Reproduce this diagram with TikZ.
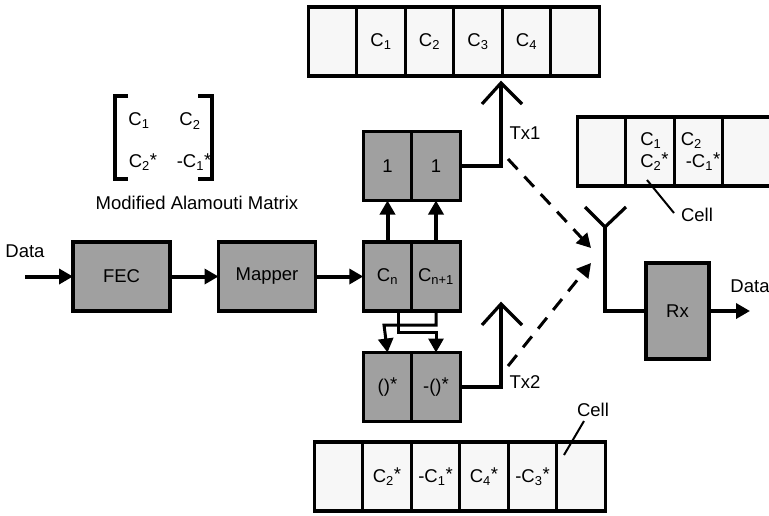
\documentclass[tikz,border=0pt]{standalone}
\usepackage{fontspec}
\setmainfont{Liberation Sans}
\usetikzlibrary{arrows.meta, positioning}
\definecolor{blockgray}{RGB}{160, 160, 160}
\definecolor{cellwhite}{RGB}{247, 247, 247}
\newcommand{\Csub}[1]{C\textsubscript{#1}}
\newcommand{\Star}{\raisebox{1.5pt}{*}}
\newcommand{\Cstar}[1]{C\textsubscript{#1}\Star}

\begin{document}
\begin{tikzpicture}[
  x=1pt, y=-1pt,
  line width=3.2pt,
  cellbox/.style={draw, fill=cellwhite, minimum width=48.5pt, minimum height=69pt, inner sep=0pt, outer sep=0pt, font=\fontsize{18.5}{21.5}\selectfont},
  graybox/.style={draw, fill=blockgray, minimum width=48.5pt, minimum height=69pt, inner sep=0pt, outer sep=0pt, font=\fontsize{18.5}{21.5}\selectfont},
  bigbox/.style={graybox, minimum width=97pt},
  lbl/.style={inner sep=0pt, font=\fontsize{18.5}{21.5}\selectfont},
  flow/.style={-{Triangle[length=14pt, width=15pt]}, line width=4pt},
  txline/.style={line width=4pt},
  leader/.style={line width=2pt}
]
  \useasboundingbox (0,0) rectangle (769,515);

  % transmit slots, antenna 1
  \node[cellbox] (topa) at (332.5, 41.5) {};
  \node[cellbox, right=0pt of topa] (topb) {\Csub{1}};
  \node[cellbox, right=0pt of topb] (topc) {\Csub{2}};
  \node[cellbox, right=0pt of topc] (topd) {\Csub{3}};
  \node[cellbox, right=0pt of topd] (tope) {\Csub{4}};
  \node[cellbox, right=0pt of tope] (topf) {};

  % received slots
  \node[cellbox] (rxa) at (601.5, 151.5) {};
  \node[cellbox, right=0pt of rxa, align=left] (rxb) {\hspace*{9pt}\Csub{1}\\\hspace*{9pt}\Cstar{2}};
  \node[cellbox, right=0pt of rxb, align=left] (rxc) {\hspace*{4pt}\Csub{2}\\\hspace*{9pt}-\Cstar{1}};
  \node[cellbox, right=0pt of rxc] (rxd) {};

  % transmit slots, antenna 2
  \node[cellbox] (lowa) at (338.5, 476.5) {};
  \node[cellbox, right=0pt of lowa] (lowb) {\Cstar{2}};
  \node[cellbox, right=0pt of lowb] (lowc) {-\Cstar{1}};
  \node[cellbox, right=0pt of lowc] (lowd) {\Cstar{4}};
  \node[cellbox, right=0pt of lowd] (lowe) {-\Cstar{3}};
  \node[cellbox, right=0pt of lowe] (lowf) {};

  % encoder blocks
  \node[bigbox] (fec) at (121.5, 276.5) {FEC};
  \node[bigbox] (mapper) at (267, 276.5) {Mapper};
  \node[graybox] (cn) at (387.5, 276.5) {\Csub{n}};
  \node[graybox, right=0pt of cn] (cnn) {\Csub{n+1}};
  \node[graybox] (onea) at (387.5, 166) {1};
  \node[graybox, right=0pt of onea] (oneb) {1};
  \node[graybox] (conj) at (387.5, 387) {()\Star};
  \node[graybox, right=0pt of conj] (nconj) {-()\Star};
  \node[graybox, minimum width=63pt, minimum height=96pt] (rx) at (677.5, 311) {Rx};

  % matrix
  \node[lbl] (mone) at (139, 121) {\Csub{1}};
  \node[lbl] (mtwo) at (190, 121) {\Csub{2}};
  \node[lbl] (mthree) at (143, 162) {\Cstar{2}};
  \node[lbl] (mfour) at (194, 162) {-\Cstar{1}};
  \draw (128, 96) -- (115, 96) -- (115, 179) -- (128, 179);
  \draw (198, 96) -- (212, 96) -- (212, 179) -- (198, 179);
  \node[lbl] (mcap) at (197, 203) {Modified Alamouti Matrix};

  % main chain
  \node[lbl] (datain) at (25, 251) {Data};
  \coordinate (datastart) at (25, 276.5);
  \draw[flow] (datastart) -- (fec);
  \draw[flow] (fec) -- (mapper);
  \draw[flow] (mapper) -- (cn);
  \draw[flow] (cn.north) -- (onea.south);
  \draw[flow] (cnn.north) -- (oneb.south);

  % crossing into the conjugate blocks
  \draw[flow, line width=3pt] (cnn.south) -- (cnn.south |- 0, 325) -- (384, 325) -- (conj.north);
  \draw[flow, line width=3pt] (398, 311) -- (398, 332) -- (cnn.south |- 0, 332) -- (nconj.north);

  % antennas
  \coordinate (txatip) at (501, 83);
  \coordinate (txbtip) at (501, 304);
  \draw[txline] (oneb.east) -| (txatip);
  \draw[txline] (nconj.east) -| (txbtip);
  \draw (482, 104) -- (txatip) -- (522, 104);
  \draw (482, 325) -- (txbtip) -- (522, 325);
  \node[lbl] (txa) at (525, 133) {Tx1};
  \node[lbl] (txb) at (525, 382) {Tx2};

  % receive antenna
  \coordinate (rxtip) at (605, 227);
  \draw (585, 207) -- (rxtip) -- (626, 207);
  \draw[txline] (rxtip) |- (rx.west);
  \coordinate (dashatail) at (508, 159);
  \coordinate (dashahead) at (591, 248);
  \coordinate (dashbtail) at (508, 366);
  \coordinate (dashbhead) at (591, 263);
  \draw[flow, line width=3pt, dash pattern=on 14pt off 10pt] (dashatail) -- (dashahead);
  \draw[flow, line width=3pt, dash pattern=on 14pt off 10pt] (dashbtail) -- (dashbhead);

  % output
  \coordinate (dataend) at (750, 311);
  \draw[flow] (rx) -- (dataend);
  \node[lbl] (dataout) at (750, 286) {Data};

  % cell labels
  \node[lbl] (cella) at (697, 215) {Cell};
  \node[lbl] (cellb) at (593, 410) {Cell};
  \coordinate (cellatip) at (647, 180);
  \coordinate (cellaend) at (674, 213);
  \coordinate (cellbtip) at (564, 455);
  \coordinate (cellbend) at (584, 421);
  \draw[leader] (cellatip) -- (cellaend);
  \draw[leader] (cellbtip) -- (cellbend);
\end{tikzpicture}
\end{document}
